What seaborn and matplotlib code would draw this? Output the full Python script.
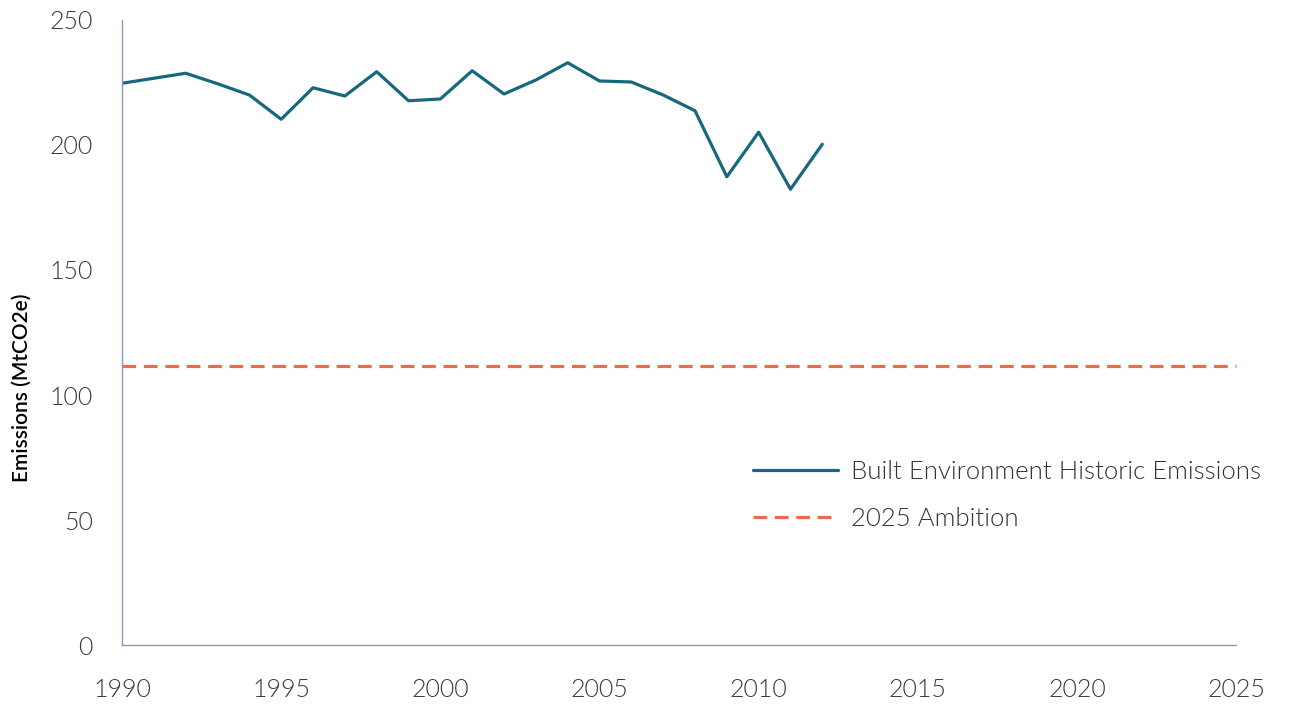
import matplotlib
matplotlib.use("Agg")
import matplotlib.pyplot as plt
import pandas as pd
import seaborn as sns

# historic emissions, MtCO2e
years = [1990, 1991, 1992, 1993, 1994, 1995, 1996, 1997, 1998, 1999, 2000, 2001,
         2002, 2003, 2004, 2005, 2006, 2007, 2008, 2009, 2010, 2011, 2012]
emissions = [224.7, 226.7, 228.7, 224.5, 220.0, 210.3, 222.9, 219.6, 229.3, 217.7, 218.4, 229.7,
             220.4, 226.0, 232.9, 225.6, 225.2, 220.0, 213.7, 187.3, 205.1, 182.3, 200.3]
ambition_years = [1990, 2025]
ambition = [111.6, 111.6]
x_ticks = [1990, 1995, 2000, 2005, 2010, 2015, 2020, 2025]
y_ticks = [0, 50, 100, 150, 200, 250]

teal = "#17687e"
coral = "#eb6a50"
spine_col = "#8f96c0"

sns.set_theme(style="white")
plt.rcParams["font.family"] = ["Lato", "DejaVu Sans"]

hist = pd.DataFrame({"year": years, "value": emissions})
amb = pd.DataFrame({"year": ambition_years, "value": ambition})

fig = plt.figure(figsize=(12.93, 7.04), dpi=100)
ax = fig.add_axes([0.0944, 0.0838, 0.8616, 0.8878])

sns.lineplot(data=hist, x="year", y="value", ax=ax, color=teal, linewidth=2.3,
             label="Built Environment Historic Emissions")
sns.lineplot(data=amb, x="year", y="value", ax=ax, color=coral, linewidth=2.3,
             dashes=False, label="2025 Ambition", clip_on=False)
ax.lines[-1].set_dashes([4.3, 2.4])

ax.set_xlim(1990, 2025)
ax.set_ylim(0, 250)
ax.set_xticks(x_ticks)
ax.set_yticks(y_ticks)
ax.tick_params(axis="both", length=0, labelsize=18, labelcolor="#3a3a3a")
ax.tick_params(axis="x", pad=24)
ax.tick_params(axis="y", pad=21)
for lab in ax.get_xticklabels() + ax.get_yticklabels():
    lab.set_fontweight(300)

ax.set_xlabel("")
ax.set_ylabel("Emissions (MtCO2e)", fontsize=15, fontweight="semibold", color="black")
ax.yaxis.set_label_coords(-0.081, 0.411)

for side in ["top", "right"]:
    ax.spines[side].set_visible(False)
for side in ["left", "bottom"]:
    ax.spines[side].set_color(spine_col)
    ax.spines[side].set_linewidth(1.0)

leg = ax.legend(loc="upper left", bbox_to_anchor=(0.546, 0.333), frameon=False,
                fontsize=18.5, handlelength=3.3, handletextpad=0.5, labelspacing=0.9)
for t in leg.get_texts():
    t.set_fontweight(300)
    t.set_color("#333333")

fig.savefig("out.png", dpi=100)
